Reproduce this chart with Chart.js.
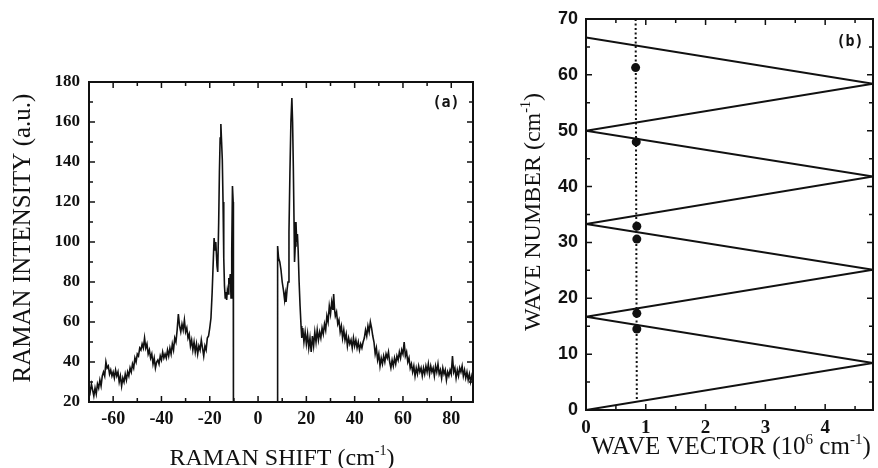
<!DOCTYPE html>
<html lang="en">
<head>
<meta charset="UTF-8">
<title>Raman spectrum and folded acoustic phonons</title>
<script src="https://cdn.jsdelivr.net/npm/chart.js"></script>
<style>
    body { margin: 0; background: #fff; width: 878px; height: 468px; overflow: hidden; position: relative; }
    canvas { position: absolute; top: 0; }
    #spectrum { left: 0; }
    #folding { left: 495px; }
</style>
</head>
<body>
<canvas id="spectrum" width="490" height="468"></canvas>
<canvas id="folding" width="383" height="468"></canvas>
<script>
// (a) Raman spectrum
const ramanShift = [
    -70, -69.5, -69, -68.5, -68, -67.5, -67, -66.5, -66, -65.5,
    -65, -64.5, -64, -63.5, -63, -62.5, -62, -61.5, -61, -60.5,
    -60, -59.5, -59, -58.5, -58, -57.5, -57, -56.5, -56, -55.5,
    -55, -54.5, -54, -53.5, -53, -52.5, -52, -51.5, -51, -50.5,
    -50, -49.5, -49, -48.5, -48, -47.5, -47, -46.5, -46, -45.5,
    -45, -44.5, -44, -43.5, -43, -42.5, -42, -41.5, -41, -40.5,
    -40, -39.5, -39, -38.5, -38, -37.5, -37, -36.5, -36, -35.5,
    -35, -34.5, -34, -33.5, -33, -32.5, -32, -31.5, -31, -30.5,
    -30, -29.5, -29, -28.5, -28, -27.5, -27, -26.5, -26, -25.5,
    -25, -24.5, -24, -23.5, -23, -22.5, -22, -21.5, -21, -20.5,
    -20, -19.5, -19, -18.5, -18.2, -17.8, -17.5, -17, -16.7, -16.3,
    -16, -15.7, -15.4, -15.1, -14.8, -14.5, -14.2, -13.9, -13.6, -13.3,
    -13, -12.7, -12.4, -12.1, -11.8, -11.5, -11.2, -10.9, -10.6, -10.3,
    -10.2, 8, 8.1, 8.5, 9, 9.5, 10, 10.5, 11, 11.3,
    11.6, 12, 12.4, 12.8, 13.2, 13.6, 14, 14.3, 14.6, 14.9,
    15.1, 15.4, 15.7, 16, 16.3, 16.6, 17, 17.4, 17.8, 18.1,
    18.5, 19, 19.5, 20, 20.5, 21, 21.5, 22, 22.5, 23,
    23.5, 24, 24.5, 25, 25.5, 26, 26.5, 27, 27.5, 28,
    28.5, 29, 29.5, 30, 30.5, 31, 31.3, 31.7, 32, 32.5,
    33, 33.5, 34, 34.5, 35, 35.5, 36, 36.5, 37, 37.5,
    38, 38.5, 39, 39.5, 40, 40.5, 41, 41.5, 42, 42.5,
    43, 43.5, 44, 44.5, 45, 45.5, 46, 46.5, 47, 47.5,
    48, 48.5, 49, 49.5, 50, 50.5, 51, 51.5, 52, 52.5,
    53, 53.5, 54, 54.5, 55, 55.5, 56, 56.5, 57, 57.5,
    58, 58.5, 59, 59.5, 60, 60.5, 61, 61.5, 62, 62.5,
    63, 63.5, 64, 64.5, 65, 65.5, 66, 66.5, 67, 67.5,
    68, 68.5, 69, 69.5, 70, 70.5, 71, 71.5, 72, 72.5,
    73, 73.5, 74, 74.5, 75, 75.5, 76, 76.5, 77, 77.5,
    78, 78.5, 79, 79.5, 80, 80.5, 81, 81.5, 82, 82.5,
    83, 83.5, 84, 84.5, 85, 85.5, 86, 86.5, 87, 87.5,
    88, 88.5, 89
];
const ramanIntensity = [
    28, 25, 29, 26, 23, 27, 24, 29, 27, 31,
    28, 33, 35, 33, 40, 37, 38, 34, 36, 33,
    35, 32, 36, 33, 35, 30, 33, 28, 32, 30,
    34, 31, 35, 33, 37, 35, 39, 37, 42, 40,
    44, 43, 47, 46, 49, 47, 52, 47, 49, 44,
    46, 42, 44, 39, 42, 37, 40, 41, 39, 43,
    41, 45, 42, 44, 42, 46, 43, 47, 44, 49,
    46, 52, 50, 56, 64, 58, 55, 59, 56, 61,
    55, 57, 52, 54, 48, 51, 46, 50, 45, 49,
    44, 48, 46, 51, 47, 43, 48, 46, 52, 53,
    57, 62, 75, 92, 102, 96, 100, 88, 85, 110,
    135, 152, 159, 150, 141, 120, 92, 78, 72, 75,
    71, 76, 74, 82, 79, 84, 72, 95, 128, 120,
    20, 20, 98, 92, 90, 86, 80, 76, 71, 74,
    70, 76, 80, 105, 135, 160, 172, 160, 138, 110,
    90, 98, 110, 100, 104, 96, 80, 68, 58, 52,
    57, 50, 55, 49, 54, 47, 52, 45, 53, 48,
    55, 50, 56, 51, 55, 52, 57, 54, 59, 56,
    63, 60, 68, 64, 70, 66, 74, 66, 63, 65,
    59, 61, 55, 58, 52, 56, 51, 54, 48, 52,
    49, 51, 47, 52, 48, 51, 47, 50, 46, 49,
    47, 50, 52, 56, 53, 58, 55, 60, 57, 53,
    50, 44, 47, 41, 44, 38, 42, 39, 43, 40,
    44, 42, 45, 40, 37, 41, 38, 42, 39, 43,
    41, 45, 42, 46, 44, 50, 43, 45, 40, 42,
    37, 39, 35, 38, 33, 37, 34, 38, 35, 37,
    33, 37, 34, 38, 35, 39, 34, 38, 35, 37,
    33, 38, 35, 39, 34, 36, 32, 37, 34, 36,
    31, 35, 33, 36, 34, 43, 35, 37, 32, 36,
    33, 37, 35, 38, 33, 36, 32, 35, 31, 34,
    30, 33, 30
];
const shiftTicks = [-60, -40, -20, 0, 20, 40, 60, 80];
const intensityTicks = [20, 40, 60, 80, 100, 120, 140, 160, 180];

// (b) folded acoustic branch and measured modes
const foldQ = [0, 4.8, 0, 4.8, 0, 4.8, 0, 4.8, 0];
const foldW = [0, 8.4, 16.7, 25.1, 33.3, 41.8, 50, 58.4, 66.7];
const probeQ = [0.83, 0.85];
const probeW = [70, 1.5];
const modeQ = [0.83, 0.84, 0.85, 0.85, 0.85, 0.85];
const modeW = [61.3, 48.0, 32.9, 30.6, 17.3, 14.5];
const vectorTicks = [0, 1, 2, 3, 4];
const numberTicks = [0, 10, 20, 30, 40, 50, 60, 70];

const ink = '#111';
const serifBold = { family: "'Liberation Serif', 'DejaVu Serif', serif", size: 17, weight: 'bold' };

// box round the plot with short inward ticks on all four sides
const framePlugin = {
    id: 'frame',
    afterDatasetsDraw(chart, args, opts) {
        const { ctx, chartArea: a, scales: { x, y } } = chart;
        ctx.save();
        ctx.strokeStyle = ink;
        ctx.lineWidth = 1.5;
        ctx.beginPath();
        for (let i = 0; ; i++) {
            const v = opts.xFrom + i * opts.xStep;
            if (v > x.max + 1e-9) break;
            const px = x.getPixelForValue(v);
            const r = v / opts.xMajor;
            const len = Math.abs(r - Math.round(r)) < 1e-6 ? 6 : 4;
            ctx.moveTo(px, a.bottom); ctx.lineTo(px, a.bottom - len);
            ctx.moveTo(px, a.top); ctx.lineTo(px, a.top + len);
        }
        for (let i = 0; ; i++) {
            const v = opts.yFrom + i * opts.yStep;
            if (v > y.max + 1e-9) break;
            const py = y.getPixelForValue(v);
            const r = v / opts.yMajor;
            const len = Math.abs(r - Math.round(r)) < 1e-6 ? 6 : 4;
            ctx.moveTo(a.left, py); ctx.lineTo(a.left + len, py);
            ctx.moveTo(a.right, py); ctx.lineTo(a.right - len, py);
        }
        ctx.stroke();
        ctx.lineWidth = 2;
        ctx.strokeRect(a.left, a.top, a.right - a.left, a.bottom - a.top);
        ctx.restore();
    }
};

function drawRich(ctx, parts, cx, baseline, size) {
    const fam = "'Liberation Serif', 'DejaVu Serif', serif";
    const main = size + 'px ' + fam;
    const small = Math.round(size * 0.6) + 'px ' + fam;
    let w = 0;
    parts.forEach(p => { ctx.font = p.sup ? small : main; p.w = ctx.measureText(p.t).width; w += p.w; });
    let x = cx - w / 2;
    ctx.textAlign = 'left';
    ctx.textBaseline = 'alphabetic';
    parts.forEach(p => {
        ctx.font = p.sup ? small : main;
        ctx.fillText(p.t, x, baseline - (p.sup ? size * 0.4 : 0));
        x += p.w;
    });
}

// axis titles with superscripts and the panel letter
const notesPlugin = {
    id: 'notes',
    afterDraw(chart, args, opts) {
        const ctx = chart.ctx;
        ctx.save();
        ctx.fillStyle = ink;
        drawRich(ctx, opts.xTitle, opts.xTitleAt[0], opts.xTitleAt[1], opts.xSize);
        ctx.save();
        ctx.translate(opts.yTitleAt[0], opts.yTitleAt[1]);
        ctx.rotate(-Math.PI / 2);
        drawRich(ctx, opts.yTitle, 0, 0, opts.ySize);
        ctx.restore();
        ctx.font = "bold 15px 'DejaVu Sans Mono', monospace";
        ctx.textAlign = 'center';
        ctx.textBaseline = 'middle';
        ctx.fillText(opts.panel, opts.panelAt[0], opts.panelAt[1]);
        ctx.restore();
    }
};

function tickScale(min, max, list, fit, font, padding) {
    return {
        type: 'linear', min: min, max: max,
        grid: { display: false, drawTicks: false },
        border: { display: false },
        afterBuildTicks: s => { s.ticks = list.map(v => ({ value: v })); },
        afterFit: fit,
        ticks: { font: font, color: ink, padding: padding, maxRotation: 0, autoSkip: false, callback: v => String(v) }
    };
}

new Chart(document.getElementById('spectrum'), {
    type: 'scatter',
    data: {
        datasets: [{
            data: ramanShift.map((x, i) => ({ x: x, y: ramanIntensity[i] })),
            showLine: true,
            borderColor: ink,
            borderWidth: 1.6,
            pointRadius: 0,
            tension: 0
        }]
    },
    options: {
        responsive: false,
        animation: false,
        layout: { padding: { left: 0, right: 17, top: 82, bottom: 0 } },
        plugins: {
            legend: { display: false },
            tooltip: { enabled: false },
            frame: { xFrom: -70, xStep: 10, xMajor: 20, yFrom: 20, yStep: 10, yMajor: 20 },
            notes: {
                xTitle: [{ t: 'RAMAN SHIFT (cm' }, { t: '-1', sup: true }, { t: ')' }],
                xTitleAt: [282, 465],
                xSize: 24,
                yTitle: [{ t: 'RAMAN INTENSITY (a.u.)' }],
                yTitleAt: [30, 238],
                ySize: 25,
                panel: '(a)',
                panelAt: [446, 103]
            }
        },
        scales: {
            x: tickScale(-70, 89, shiftTicks, s => { s.height = 66; },
                { family: "'Liberation Serif', 'DejaVu Serif', serif", size: 18, weight: 'bold' }, 7),
            y: tickScale(20, 180, intensityTicks, s => { s.width = 89; }, serifBold, 9)
        }
    },
    plugins: [framePlugin, notesPlugin]
});

new Chart(document.getElementById('folding'), {
    type: 'scatter',
    data: {
        datasets: [
            {
                data: foldQ.map((x, i) => ({ x: x, y: foldW[i] })),
                showLine: true, borderColor: ink, borderWidth: 2, pointRadius: 0, tension: 0
            },
            {
                data: probeQ.map((x, i) => ({ x: x, y: probeW[i] })),
                showLine: true, borderColor: ink, borderWidth: 2, borderDash: [2, 2.5], pointRadius: 0
            },
            {
                data: modeQ.map((x, i) => ({ x: x, y: modeW[i] })),
                showLine: false, pointRadius: 4.5, pointBackgroundColor: ink, pointBorderColor: ink, pointBorderWidth: 0
            }
        ]
    },
    options: {
        responsive: false,
        animation: false,
        layout: { padding: { left: 0, right: 5, top: 19, bottom: 0 } },
        plugins: {
            legend: { display: false },
            tooltip: { enabled: false },
            frame: { xFrom: 0, xStep: 0.5, xMajor: 1, yFrom: 0, yStep: 5, yMajor: 10 },
            notes: {
                xTitle: [{ t: 'WAVE VECTOR (10' }, { t: '6', sup: true }, { t: ' cm' }, { t: '-1', sup: true }, { t: ')' }],
                xTitleAt: [236, 454],
                xSize: 25,
                yTitle: [{ t: 'WAVE NUMBER (cm' }, { t: '-1', sup: true }, { t: ')' }],
                yTitleAt: [45, 212],
                ySize: 24,
                panel: '(b)',
                panelAt: [355, 42]
            }
        },
        scales: {
            x: tickScale(0, 4.8, vectorTicks, s => { s.height = 58; },
                { family: "'Liberation Serif', 'DejaVu Serif', serif", size: 19, weight: 'bold' }, 7),
            y: tickScale(0, 70, numberTicks, s => { s.width = 91; },
                { family: "'Liberation Sans', Arial, sans-serif", size: 18, weight: 'bold' }, 8)
        }
    },
    plugins: [framePlugin, notesPlugin]
});
</script>
</body>
</html>
